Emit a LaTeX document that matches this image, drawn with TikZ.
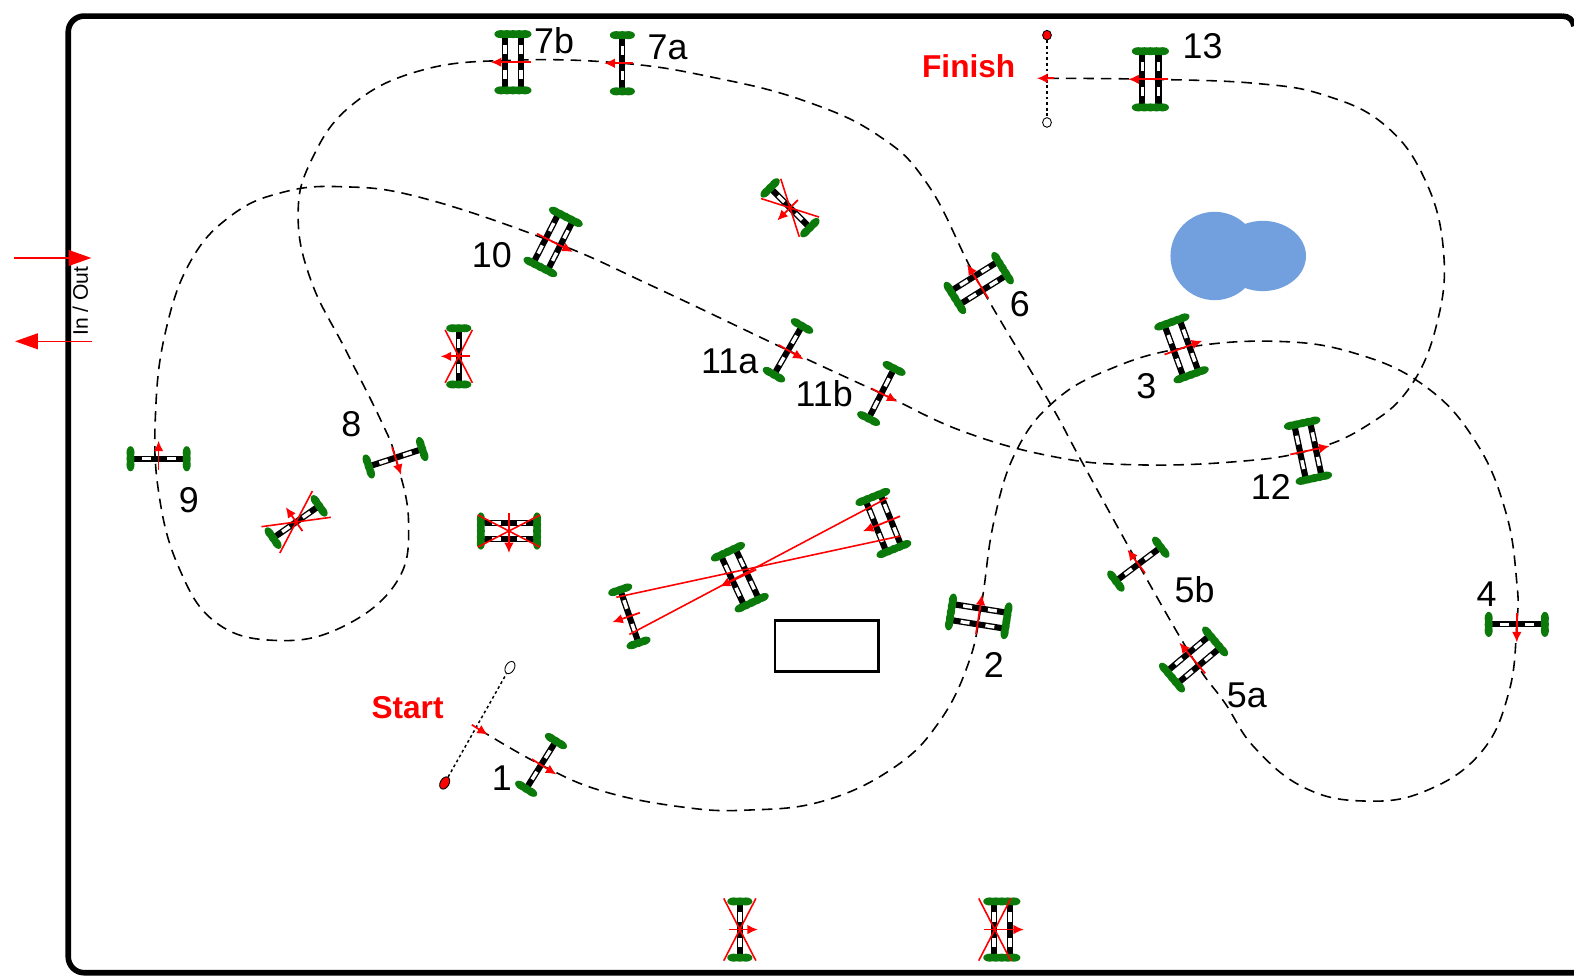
\documentclass[tikz,border=0pt]{standalone}
\usepackage{fontspec}
\setmainfont{Liberation Sans}
\usetikzlibrary{arrows.meta, shapes.geometric}

\definecolor{leafgreen}{HTML}{0B7A0B}
\definecolor{pondblue}{HTML}{729FDD}

\newcommand{\railat}[1]{
	\draw [line width=3.5pt] (#1,-27) -- (#1,27);
	\foreach \s in {-1, 1} {
		\fill [white] (#1-1.7,\s*8) rectangle (#1+1.7,\s*17);
	}
}

\tikzset{
	hedge/.style={fill=leafgreen, draw=none},
	numlabel/.style={font=\fontsize{20.4}{20.4}\selectfont},
	redlabel/.style={font=\fontsize{18}{18}\bfseries\selectfont, text=red},
	goarrow/.style={red, line width=1pt, -{Latex[length=6pt, width=5.5pt]}},
	xline/.style={red, line width=0.9pt},
	course/.style={line width=0.9pt, dash pattern=on 6pt off 4pt},
	gate/.style={line width=0.85pt, dash pattern=on 1.6pt off 1.6pt},
	flag/.style={draw, line width=0.5pt, ellipse, inner sep=0pt, minimum width=5pt, minimum height=7.5pt},
	pics/fence/.style={code={
		\railat{0}
		\foreach \s in {-1, 1} {
			\foreach \t in {-6, 0, 6} {
				\fill [hedge] (\t,\s*28) ellipse (6.5 and 4);
			}
		}
		\draw [goarrow] (-11,0) -- (18,0);
	}},
	pics/spread/.style={code={
		\railat{-8}
		\railat{8}
		\foreach \s in {-1, 1} {
			\foreach \t in {-12, -6, 0, 6, 12} {
				\fill [hedge] (\t,\s*28) ellipse (6.5 and 4);
			}
		}
		\draw [goarrow] (-18,0) -- (22,0);
	}},
	pics/barred/.style={code={
		\draw [xline] (-16,-31) -- (16,31);
		\draw [xline] (-16,31) -- (16,-31);
	}}
}

\begin{document}
\begin{tikzpicture}[x=0.02008cm, y=-0.02008cm]
	\useasboundingbox (0,0) rectangle (1568,975);

	\draw [line width=3.2pt, rounded corners=9pt] (1556,16) -| (68,969) -- (1568,969);
	\draw [line width=3.2pt] (1568,26) .. controls (1567,20) and (1563,16) .. (1556,16);

	\fill [pondblue] (1210,255) circle (44);
	\fill [pondblue] (1258,255) ellipse (43 and 35);

	\draw [line width=1.4pt] (772,618) rectangle (875,669);

	\draw [course] plot [smooth, tension=0.7] coordinates {
		(478,727) (539,762) (600,788) (680,804) (745,807) (820,798) (890,765) (935,720) (965,660)
		(978,600) (990,520) (1012,450) (1050,400) (1105,368) (1177,347) (1270,340) (1350,352)
		(1420,385) (1470,440) (1500,510) (1511,580) (1511,622) (1503,690) (1475,750) (1420,788) (1360,798)
		(1300,785) (1250,745) (1220,700) (1189,657) (1134,562) (1075,455) (1045,400) (975,282)
		(925,185) (875,135) (800,100) (710,77) (620,63) (511,60) (420,70) (350,105) (310,160) (297,215)
		(310,280) (345,350) (380,420) (394,456) (407,520) (395,580) (340,625) (275,638) (215,620)
		(178,565) (158,490) (155,410) (165,330) (190,260) (230,215) (280,192) (340,186) (420,197) (551,241)
		(650,285) (785,349) (878,392) (960,430) (1050,455) (1130,463) (1230,460) (1303,449)
		(1360,425) (1405,385) (1432,320) (1438,250) (1420,180) (1380,125) (1320,95) (1250,83) (1146,79) (1043,78)
	};

	\foreach \x/\y/\r in {539/762/-32, 1511/622/-90, 1134/562/127, 620/63/180, 394/456/-72, 158/457/90,
		785/349/-30, 878/392/-27, 627/614/199, 787/207/225, 457/355/180, 295/520/125, 737/926/0} {
		\pic [rotate=\r] at (\x,\y) {fence};
	}
	\foreach \x/\y/\r in {975/614/81, 1177/347/20, 1189/657/130, 975/282/122, 511/62/180, 551/241/-27,
		1303/449/12, 1146/79/180, 737/575/205, 880/521/202, 507/529/-90, 998/926/0} {
		\pic [rotate=\r] at (\x,\y) {spread};
	}
	\foreach \x/\y/\r/\k in {787/207/225/0.87, 457/355/180/0.85, 295/520/125/1, 737/926/0/1, 507/529/-90/1, 991/926/0/1} {
		\pic [rotate=\r, scale=\k] at (\x,\y) {barred};
	}

	\draw [xline] (614,595) -- (897,534);
	\draw [xline] (627,632) -- (884,496);

	\node [flag, fill=red, rotate=-30] (startred) at (443,780) {};
	\node [flag, fill=white, rotate=-30] (startwhite) at (508,665) {};
	\draw [gate] (startred) -- (startwhite);
	\draw [goarrow] (470,722) -- (486,732);
	\node [flag, fill=red, minimum width=5pt, minimum height=5.5pt] (finishred) at (1043,35) {};
	\node [flag, fill=white, minimum width=5pt, minimum height=5.5pt] (finishwhite) at (1043,122) {};
	\draw [gate] (finishred) -- (finishwhite);
	\draw [goarrow] (1050,78) -- (1033,78);

	\draw [red, line width=0.8pt, -{Triangle[length=13pt, width=9pt]}] (14,257) -- (91,257);
	\draw [red, line width=0.8pt, -{Triangle[length=13pt, width=9pt]}] (92,340) -- (15,340);
	\node [rotate=90, font=\fontsize{12}{12}\selectfont] (inout) at (80,300) {In / Out};

	\foreach \x/\y/\lbl in {500/775/1, 990/662/2, 1142/385/3, 1481/592/4, 1242/693/5a, 1190/587/5b,
		1016/303/6, 665/47/7a, 552/41/7b, 350/423/8, 188/498/9, 490/254/10, 727/360/11a, 821/392/11b,
		1266/485/12, 1198/46/13} {
		\node [numlabel] (n\lbl) at (\x,\y) {\lbl};
	}
	\node [redlabel] (startlbl) at (406,705) {Start};
	\node [redlabel] (finishlbl) at (965,66) {Finish};
\end{tikzpicture}
\end{document}
